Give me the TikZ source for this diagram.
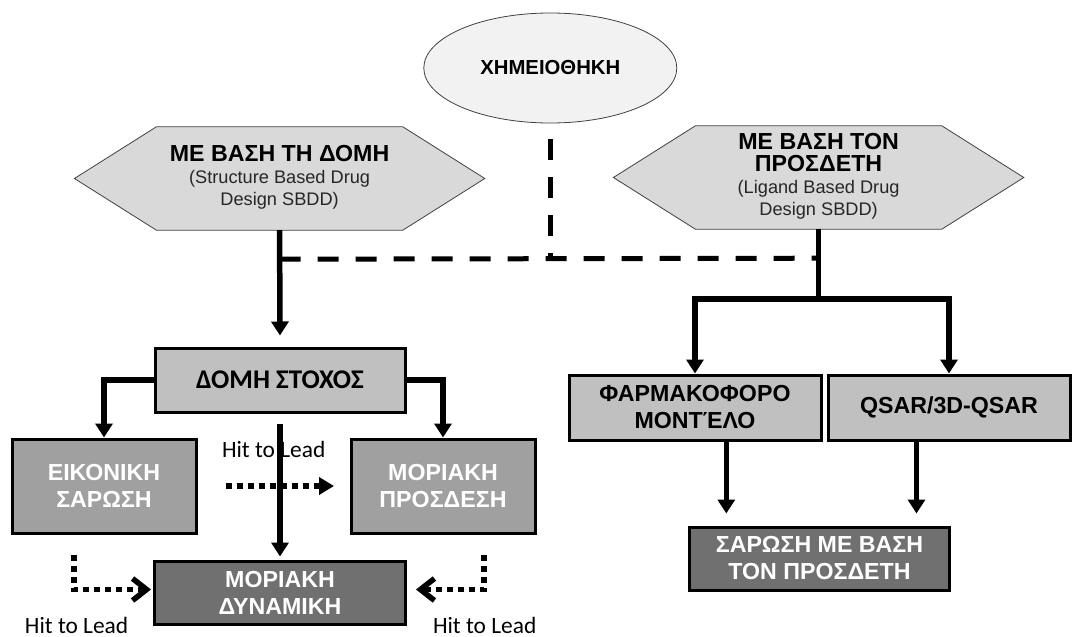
\documentclass[tikz,border=0pt]{standalone}
\usepackage{fontspec}
\setmainfont{Liberation Sans}
\newfontfamily\calfont{Carlito}
\usetikzlibrary{arrows.meta,shapes.geometric,calc}
\pgfdeclarelayer{background}
\pgfsetlayers{background,main}

\definecolor{hexfill}{HTML}{D9D9D9}
\definecolor{ellfill}{HTML}{F2F2F2}
\definecolor{edgegray}{HTML}{404040}
\definecolor{lightbox}{HTML}{C0C0C0}
\definecolor{midbox}{HTML}{A0A0A0}
\definecolor{darkbox}{HTML}{707070}

% bold heading line inside a hexagon
\newcommand{\hexhead}[1]{{\fontsize{23.2}{25}\selectfont\bfseries\color{black}#1}}

\tikzset{
  boxbase/.style={draw=black, line width=3pt, inner sep=0pt, align=center,
    font=\fontsize{23.2}{27}\selectfont\bfseries},
  lightnode/.style={boxbase, fill=lightbox, text=black},
  midnode/.style={boxbase, fill=midbox, text=white},
  darknode/.style={boxbase, fill=darkbox, text=white},
  hexlabel/.style={rectangle, inner sep=0pt, minimum width=410, minimum height=105,
    align=center, font=\fontsize{18.2}{22}\selectfont, text=black!85},
  hexborder/.style={draw=edgegray, line width=0.8pt, fill=hexfill},
  ellnode/.style={ellipse, draw=edgegray, line width=0.8pt, fill=ellfill,
    minimum width=253, minimum height=110, inner sep=0pt,
    font=\fontsize{20.3}{24}\selectfont\bfseries},
  conn/.style={line width=5.5pt},
  arr/.style={conn, -{Triangle[width=17pt,length=14pt]}},
  dashconn/.style={line width=5pt, dash pattern=on 21pt off 17pt},
  dotarr/.style={line width=5.5pt, dash pattern=on 6pt off 5pt,
    -{Triangle[width=17pt,length=15pt]}},
  dotopen/.style={line width=5.5pt, dash pattern=on 6pt off 5pt,
    -{Straight Barb[length=14pt,width=22pt]}},
  hit/.style={inner sep=0pt, anchor=base, text depth=0pt,
    font=\calfont\fontsize{23.4}{26}\selectfont},
}

\begin{document}
\begin{tikzpicture}[x=1pt,y=-1pt]
\useasboundingbox (0,0) rectangle (1072,637);

% top: library and the two design approaches
\node[ellnode] (chem) at (550.3,68) {ΧΗΜΕΙΟΘΗΚΗ};
\node[hexlabel] (lhex) at (279.6,177.5)
  {\hexhead{ΜΕ ΒΑΣΗ ΤΗ ΔΟΜΗ}\\(Structure Based Drug\\Design SBDD)};
\node[hexlabel] (rhex) at (818.6,176.5)
  {\hexhead{ΜΕ ΒΑΣΗ ΤΟΝ}\\\hexhead{ΠΡΟΣΔΕΤΗ}\\(Ligand Based Drug\\Design SBDD)};

\begin{pgfonlayer}{background}
  \foreach \h in {lhex,rhex}
    \draw[hexborder] ([yshift=-1pt]\h.west) -- ([xshift=82pt,yshift=-2pt]\h.north west)
      -- ([xshift=-82pt,yshift=-2pt]\h.north east) -- ([yshift=-1pt]\h.east)
      -- ([xshift=-82pt]\h.south east) -- ([xshift=82pt]\h.south west) -- cycle;
\end{pgfonlayer}

% structure based branch
\node[lightnode, minimum width=250, minimum height=64] (domh) at (280,380)
  {\calfont\fontsize{27}{30}\selectfont\bfseries ΔΟΜΗ ΣΤΟΧΟΣ};
\node[midnode, minimum width=184, minimum height=94] (eik) at (104,486)
  {ΕΙΚΟΝΙΚΗ\\ΣΑΡΩΣΗ};
\node[midnode, minimum width=184, minimum height=94] (mpros) at (443,486)
  {ΜΟΡΙΑΚΗ\\ΠΡΟΣΔΕΣΗ};
\node[darknode, minimum width=251, minimum height=63] (dyn) at (280,592.5)
  {ΜΟΡΙΑΚΗ\\ΔΥΝΑΜΙΚΗ};

% ligand based branch
\node[lightnode, minimum width=252, minimum height=65] (farm) at (695,407.5)
  {ΦΑΡΜΑΚΟΦΟΡΟ\\ΜΟΝΤΈΛΟ};
\node[lightnode, minimum width=242, minimum height=65] (qsar) at (949,407.5)
  {QSAR/3D-QSAR};
\node[darknode, minimum width=260, minimum height=63] (saro) at (819.5,558.5)
  {ΣΑΡΩΣΗ ΜΕ ΒΑΣΗ\\ΤΟΝ ΠΡΟΣΔΕΤΗ};

% hit-to-lead labels
\node[hit] (h1) at (273.7,457) {Hit to Lead};
\node[hit] (h2) at (76.6,633) {Hit to Lead};
\node[hit] (h3) at (484.7,633) {Hit to Lead};

% dashed link from the library to both approaches
\coordinate (lj) at ([yshift=-29pt]lhex.south);
\coordinate (rj) at ([yshift=-29pt]rhex.south);
\draw[dashconn, dash phase=22pt] (chem.south) -- (chem.south |- lj);
\draw[dashconn] (lj) -- (rj);

% solid flow
\draw[arr, shorten >=11pt] (lhex.south) -- (domh.north);
\draw[arr] (domh.west) -| (eik.north);
\draw[arr] (domh.east) -| (mpros.north);
\draw[arr, shorten >=3pt] ([yshift=-10pt]domh.south) -- (dyn.north);

\coordinate (rs) at ([yshift=-70pt]rhex.south);
\draw[conn] (rhex.south) -- (rs);
\draw[arr] (rs) -| (farm.north);
\draw[arr] (rs) -| (qsar.north);

\coordinate (fa) at ([xshift=31.3pt]farm.south);
\coordinate (qa) at ([xshift=-32.5pt]qsar.south);
\draw[arr, shorten >=12pt] (fa) -- (fa |- saro.north);
\draw[arr, shorten >=12pt] (qa) -- (qa |- saro.north);

% dotted hit-to-lead arrows
\draw[dotarr] ([xshift=28pt]eik.east) -- ([xshift=-15.5pt]mpros.west);
\coordinate (lb) at ([xshift=-30pt,yshift=-20pt]eik.south);
\coordinate (rb) at ([xshift=41pt,yshift=-20pt]mpros.south);
\draw[dotopen, shorten >=2pt] (lb) |- ([yshift=3pt]dyn.west);
\draw[dotopen, shorten >=9pt] (rb) |- ([yshift=3pt]dyn.east);
\end{tikzpicture}
\end{document}
